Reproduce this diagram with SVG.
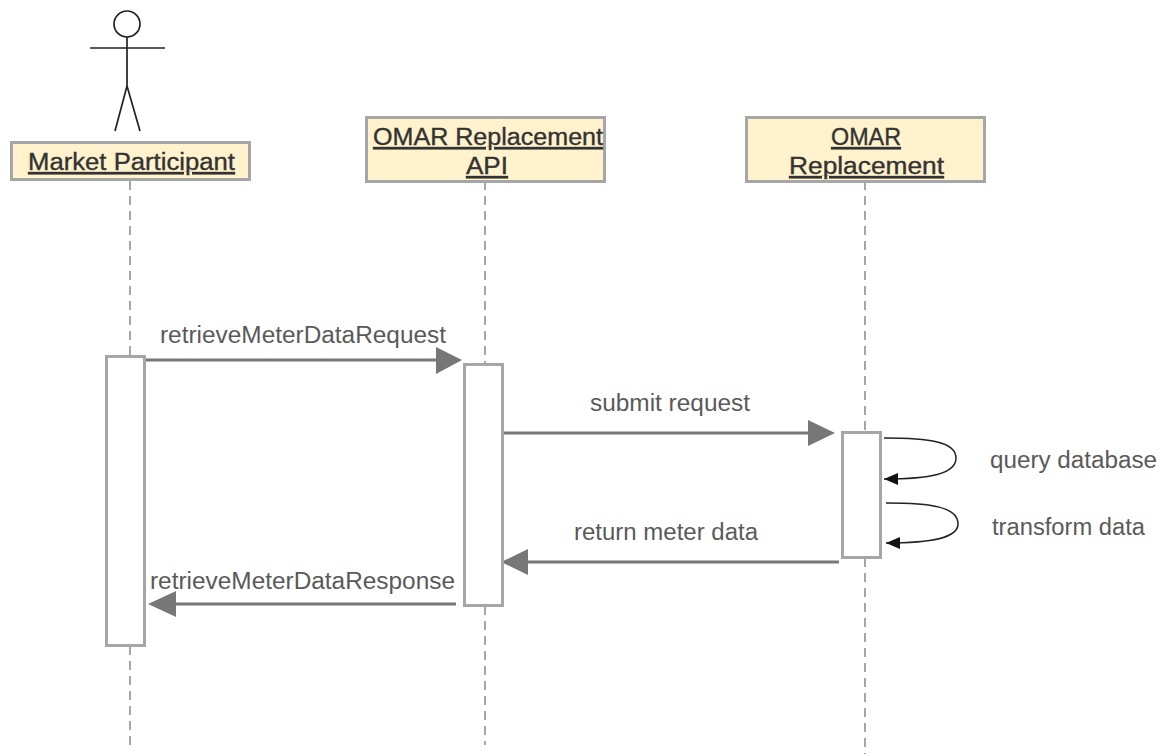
<svg xmlns="http://www.w3.org/2000/svg" width="1162" height="754" viewBox="0 0 1162 754">
<style>
text{font-family:"Liberation Sans",Arial,sans-serif;font-size:23.500px;fill:#5a5a5a}
.h{fill:#fff2cc;stroke:#a6a6a6;stroke-width:3}
.ht{fill:#333;stroke:#333;stroke-width:.35;text-decoration:underline}
.a{fill:#fff;stroke:#a6a6a6;stroke-width:3}
.l{stroke:#a6a6a6;stroke-width:2;stroke-dasharray:9 6;fill:none}
.m{stroke:#777;stroke-width:3;fill:none}
.s{stroke:#222;stroke-width:1.5;fill:none;marker-end:url(#b)}
.ah{fill:#777}
.ac{stroke:#222;stroke-width:1.7;fill:none}
</style>
<defs><marker id="b" markerUnits="userSpaceOnUse" markerWidth="16" markerHeight="14" refX="14" refY="7" orient="auto"><path d="M0 1L14 7L0 13z" fill="#111"/></marker></defs>
<g id="connectors">
<path class="l" d="M130 181V355M130 646V745M485 181V363M485 606V745M865 181V431M865 558V754"/>
<path class="m" d="M145 360H437"/><path class="ah" d="M436 347L462 360L436 374z"/>
<path class="m" d="M503 433H810"/><path class="ah" d="M808 420L835 433L808 446z"/>
<path class="m" d="M839 562H526"/><path class="ah" d="M528 549L501 562L528 575z"/>
<path class="m" d="M456 604H174"/><path class="ah" d="M176 591L148 604L176 617z"/>
<path class="s" d="M884 438C930 438 956 442 956 458C956 474 930 479 884 479"/>
<path class="s" d="M886 503C932 503 958 507 958 524C958 538 932 543 886 543"/>
</g>
<g id="actor" class="ac"><circle cx="127" cy="24" r="13"/><path d="M127 37V86M90 48H165M127 86L115 131M127 86L140 131"/></g>
<g id="market-participant"><rect class="h" x="11.500" y="142.500" width="238" height="37"/><text class="ht" x="28" y="170" textLength="207" lengthAdjust="spacingAndGlyphs">Market Participant</text></g>
<g id="omar-api"><rect class="h" x="366.500" y="117.500" width="238" height="64"/><text class="ht" x="373" y="145" textLength="230" lengthAdjust="spacingAndGlyphs">OMAR Replacement</text><text class="ht" x="466" y="174" textLength="42" lengthAdjust="spacingAndGlyphs">API</text></g>
<g id="omar-replacement"><rect class="h" x="746.500" y="117.500" width="238" height="64"/><text class="ht" x="831" y="145" textLength="70" lengthAdjust="spacingAndGlyphs">OMAR</text><text class="ht" x="789" y="174" textLength="155" lengthAdjust="spacingAndGlyphs">Replacement </text></g>
<g id="activation-1"><rect class="a" x="106.500" y="356.500" width="38" height="289"/></g>
<g id="activation-2"><rect class="a" x="464.500" y="364.500" width="38" height="241"/></g>
<g id="activation-3"><rect class="a" x="842.500" y="432.500" width="38" height="125"/></g>
<g id="labels">
<text x="160" y="343" textLength="286" lengthAdjust="spacingAndGlyphs">retrieveMeterDataRequest</text>
<text x="590" y="411" textLength="160" lengthAdjust="spacingAndGlyphs">submit request</text>
<text x="574" y="540" textLength="184" lengthAdjust="spacingAndGlyphs">return meter data</text>
<text x="150" y="589" textLength="305" lengthAdjust="spacingAndGlyphs">retrieveMeterDataResponse</text>
<text x="990" y="468" textLength="167" lengthAdjust="spacingAndGlyphs">query database</text>
<text x="992" y="535" textLength="153" lengthAdjust="spacingAndGlyphs">transform data</text>
</g>
</svg>
